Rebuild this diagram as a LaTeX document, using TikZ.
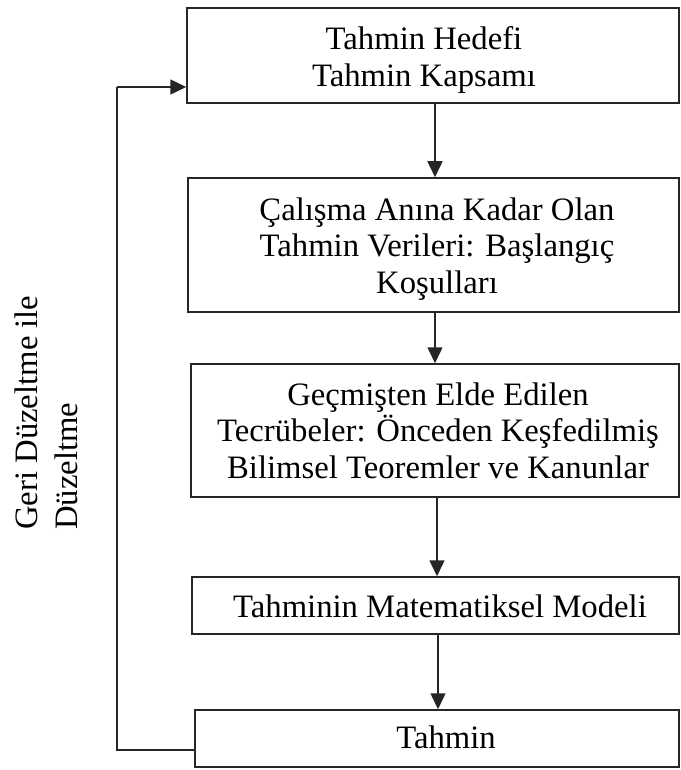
\documentclass[tikz,border=0pt]{standalone}
\usepackage{fontspec}
\setmainfont{Liberation Serif}
\usetikzlibrary{arrows.meta}
\tikzset{
  box/.style={draw=black!85, line width=1.5pt, rectangle, inner sep=0pt},
  txt/.style={align=center, inner sep=0pt, font=\fontsize{32.7pt}{36.5pt}\selectfont},
  lbl/.style={align=left, inner sep=0pt, font=\fontsize{32.7pt}{40pt}\selectfont},
  arr/.style={draw=black!85, line width=1.5pt, -{Triangle[width=15pt,length=16pt]}},
  fb/.style={draw=black!85, line width=1.5pt}
}
\begin{document}
\begin{tikzpicture}[x=1pt,y=-1pt]
\useasboundingbox[fill=white] (0,0) rectangle (680,770);
% boxes
\node[box, minimum width=492pt, minimum height=95pt] (b1) at (433,55.5) {};
\node[box, minimum width=491pt, minimum height=134pt] (b2) at (433.5,245) {};
\node[box, minimum width=488pt, minimum height=133pt] (b3) at (435,430.5) {};
\node[box, minimum width=487pt, minimum height=57pt] (b4) at (435.5,605.5) {};
\node[box, minimum width=484pt, minimum height=57pt] (b5) at (437,738.5) {};
% texts
\node[txt] (t1) at (424,60) {Tahmin Hedefi\\Tahmin Kapsamı};
\node[txt] (t2) at (437,249) {Çalışma Anına Kadar Olan\\Tahmin Verileri: Başlangıç\\Koşulları};
\node[txt] (t3) at (438,430.5) {Geçmişten Elde Edilen\\Tecrübeler: Önceden Keşfedilmiş\\Bilimsel Teoremler ve Kanunlar};
\node[txt, anchor=base] (t4) at (440,617) {Tahminin Matematiksel Modeli};
\node[txt, anchor=base] (t5) at (446,748) {Tahmin};
% side label
\node[lbl, rotate=90, anchor=north west] (lab) at (15,530) {Geri Düzeltme ile\\Düzeltme};
% arrows
\coordinate (ax1) at (435,0);
\coordinate (ax2) at (437,0);
\coordinate (ax3) at (438,0);
\draw[arr] (b1.south -| ax1) -- (b2.north -| ax1);
\draw[arr] (b2.south -| ax1) -- (b3.north -| ax1);
\draw[arr] (b3.south -| ax2) -- (b4.north -| ax2);
\draw[arr] (b4.south -| ax3) -- (b5.north -| ax3);
% feedback
\coordinate (fbs) at (117,750);
\coordinate (fbe) at (117,87);
\draw[fb] (b5.west |- fbs) -- (fbs) -- (fbe);
\draw[arr] (fbe) -- (b1.west |- fbe);
\end{tikzpicture}
\end{document}
